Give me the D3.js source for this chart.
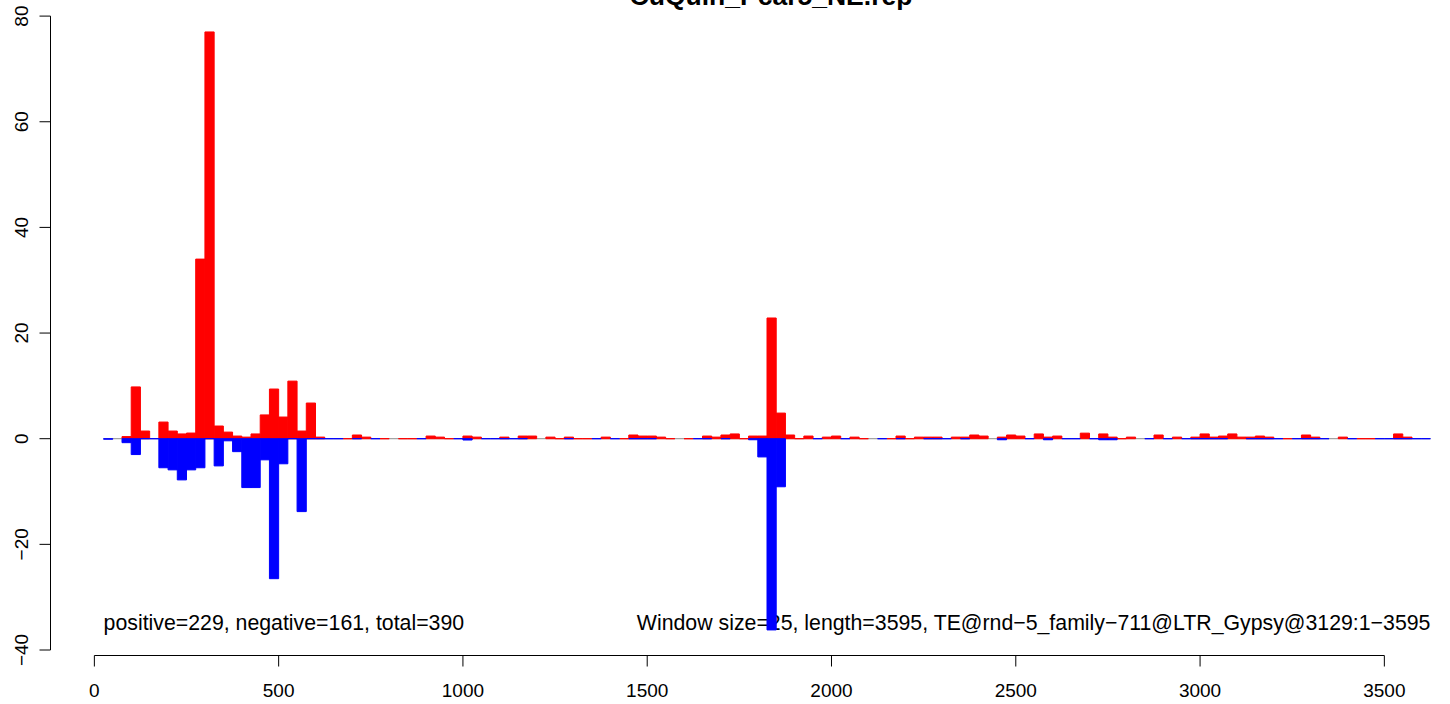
<!DOCTYPE html>
<html>
<head>
<meta charset="utf-8">
<script src="https://cdn.jsdelivr.net/npm/d3@7"></script>
<style>
  html, body { margin: 0; padding: 0; background: #ffffff; }
  svg { display: block; }
  text { font-family: "Liberation Sans", Arial, Helvetica, sans-serif; fill: #000; }
</style>
</head>
<body>
<svg id="chart" width="1450" height="704"></svg>
<script>
// ---- data (window index i covers [25*i, 25*i+25]); null = window not drawn ----
const windowSize = 25;
const windowIndex = d3.range(1, 145);
const positive = [
  null, null, 0.4, 9.8, 1.45, null, 3.15, 1.45, 0.9, 1.07,
  34.0, 77.0, 2.4, 1.25, 0.5, 0.3, 0.9, 4.5, 9.4, 4.1,
  10.9, 1.45, 6.75, 0.3, null, null, 0, 0.7, 0.3, null,
  0, null, 0, 0, null, 0.5, 0.3, 0, null, 0.5,
  0.3, null, null, 0.3, null, 0.5, 0.5, null, 0.3, 0,
  0.3, 0, 0, null, 0.3, null, 0, 0.7, 0.5, 0.5,
  0.3, 0, null, 0, null, 0.5, 0.3, 0.7, 0.9, 0,
  0.5, 0.5, 22.85, 4.85, 0.7, 0, 0.5, null, 0.3, 0.5,
  null, 0.3, 0, null, null, 0, 0.5, 0, 0.3, 0.3,
  0.3, null, 0.3, 0.3, 0.7, 0.5, null, 0.3, 0.7, 0.5,
  null, 0.9, 0.3, 0.5, null, null, 1.05, null, 0.9, 0.3,
  0, 0.3, null, null, 0.7, null, 0.3, null, 0.3, 0.9,
  0.3, 0.5, 0.9, 0.3, 0.3, 0.5, 0.3, null, 0, null,
  0.7, 0.3, null, null, 0.3, null, 0, 0, null, null,
  0.9, 0.3, null, null
];
const negative = [
  0.1, null, 0.75, 3.0, 0, 0, 5.5, 5.9, 7.8, 5.9,
  5.5, 0, 5.15, 0.4, 2.45, 9.25, 9.25, 4.0, 26.5, 4.75,
  0, 13.8, 0, 0, 0, 0, null, 0, null, 0,
  null, null, null, null, 0, null, null, null, 0, 0.25,
  null, 0, 0, 0, 0, 0, null, null, null, null,
  0, null, null, 0, null, 0, null, 0, 0, 0,
  null, null, null, null, 0, 0, null, 0, null, null,
  0.2, 3.45, 36.2, 9.1, null, null, null, 0, null, null,
  0, null, null, null, 0, null, 0, null, null, 0,
  0, 0, null, 0, null, null, null, 0.2, null, null,
  0, null, 0.2, null, 0, 0, null, 0, 0.2, 0.2,
  null, null, null, 0, null, 0, null, 0, 0, 0,
  0, 0, null, null, 0, 0, 0, 0, null, 0,
  0, 0, 0, null, null, 0, null, null, 0, 0,
  0, 0, 0, 0
];
const xTicks = [0, 500, 1000, 1500, 2000, 2500, 3000, 3500];
const yTicks = [-40, -20, 0, 20, 40, 60, 80];
const titleText = "CuQuin_Pcar5_NE.rep";
const leftNote = "positive=229, negative=161, total=390";
const rightNote = "Window size=25, length=3595, TE@rnd\u22125_family\u2212711@LTR_Gypsy@3129:1\u22123595";
const noteY = -34.8;

// ---- scales ----
const svg = d3.select("#chart");
const x = d3.scaleLinear().domain([-119, 3769]).range([50.5, 1483.5]);
const y = d3.scaleLinear().domain([-40, 80]).range([650, 16.1]);
const fmt = v => (v < 0 ? "\u2212" + Math.abs(v) : String(v));

const xStart = windowIndex[0] * windowSize;
const xEnd = (windowIndex[windowIndex.length - 1] + 1) * windowSize;

// ---- notes (drawn under the bars) ----
svg.append("text").attr("x", x(xStart)).attr("y", y(noteY)).attr("dy", "0.35em")
  .attr("text-anchor", "start").style("font-size", "21.3px").text(leftNote);
svg.append("text").attr("x", x(xEnd)).attr("y", y(noteY)).attr("dy", "0.35em")
  .attr("text-anchor", "end").style("font-size", "21.3px").text(rightNote);

// ---- baseline ----
svg.append("line")
  .attr("x1", x(xStart)).attr("x2", x(xEnd))
  .attr("y1", y(0)).attr("y2", y(0))
  .attr("stroke", "#a3a3a3").attr("stroke-width", 1.2);

function rectPath(i, v, sign) {
  const s = i * windowSize;
  const x0 = x(s), x1 = x(s + windowSize);
  const y0 = y(0), y1 = y(sign * v);
  return `M${x0},${y0}H${x1}V${y1}H${x0}Z`;
}

const posData = windowIndex.map((i, k) => ({ i, v: positive[k] })).filter(d => d.v !== null);
const negData = windowIndex.map((i, k) => ({ i, v: negative[k] })).filter(d => d.v !== null);

svg.append("g").selectAll("path").data(posData).join("path")
  .attr("d", d => rectPath(d.i, d.v, 1))
  .attr("fill", "#ff0000").attr("stroke", "#ff0000").attr("stroke-width", 1);

svg.append("g").selectAll("path").data(negData).join("path")
  .attr("d", d => rectPath(d.i, d.v, -1))
  .attr("fill", "#0000ff").attr("stroke", "#0000ff").attr("stroke-width", 1);

// ---- x axis ----
const xAxisY = 655.5;
const gx = svg.append("g");
gx.append("line").attr("x1", x(xTicks[0])).attr("x2", x(xTicks[xTicks.length - 1]))
  .attr("y1", xAxisY).attr("y2", xAxisY).attr("stroke", "#000").attr("stroke-width", 1);
gx.selectAll("line.t").data(xTicks).join("line").attr("class", "t")
  .attr("x1", d => x(d)).attr("x2", d => x(d))
  .attr("y1", xAxisY).attr("y2", xAxisY + 11).attr("stroke", "#000");
gx.selectAll("text").data(xTicks).join("text")
  .attr("x", d => x(d)).attr("y", 697)
  .attr("text-anchor", "middle").style("font-size", "19px")
  .text(fmt);

// ---- y axis ----
const yAxisX = 50.5;
const gy = svg.append("g");
gy.append("line").attr("x1", yAxisX).attr("x2", yAxisX)
  .attr("y1", y(yTicks[0])).attr("y2", y(yTicks[yTicks.length - 1])).attr("stroke", "#000");
gy.selectAll("line.t").data(yTicks).join("line").attr("class", "t")
  .attr("x1", yAxisX - 11).attr("x2", yAxisX)
  .attr("y1", d => y(d)).attr("y2", d => y(d)).attr("stroke", "#000");
gy.selectAll("text").data(yTicks).join("text")
  .attr("transform", d => `translate(${yAxisX - 23},${y(d)}) rotate(-90)`)
  .attr("text-anchor", "middle").style("font-size", "19px")
  .text(fmt);

// ---- title (partly above the top edge, as in the reference) ----
svg.append("text").attr("x", 771).attr("y", 5)
  .attr("text-anchor", "middle").style("font-size", "26.5px").style("font-weight", "bold")
  .text(titleText);
</script>
</body>
</html>
